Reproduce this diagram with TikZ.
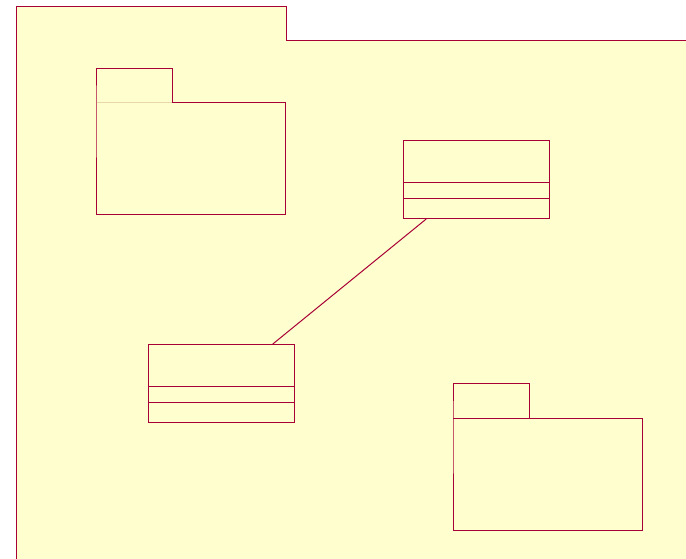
\documentclass[tikz,border=0pt]{standalone}
\usetikzlibrary{calc}
\definecolor{pfill}{HTML}{FEFECE}
\definecolor{pline}{HTML}{A80036}
\definecolor{ptab}{HTML}{E8D8A8}
\begin{document}
\begin{tikzpicture}[x=1pt,y=-1pt,
  shp/.style={draw=pline,fill=pfill,line width=1pt},
  classbox/.style={draw=pline,fill=pfill,line width=1pt,rectangle,inner sep=0pt,minimum width=146pt,minimum height=78pt,anchor=north west},
  link/.style={draw=pline,line width=1pt}]
\useasboundingbox (0,0) rectangle (686,558);
\fill[white] (0,0) rectangle (686,558);
% outer package (cut by the page edge)
\begin{scope}
\clip (0,0) rectangle (686,558);
\path[shp] (16,570) -- (16,6) -- (286,6) -- (286,40) -- (700,40) -- (700,570) -- cycle;
\end{scope}
% package 1
\path[shp] (96,102) -- (96,68) -- (172,68) -- (172,102) -- (285,102) -- (285,214) -- (96,214) -- cycle;
\draw[ptab,line width=0.8pt] (96.5,102) -- (171.5,102);
% package 2
\path[shp] (453,418) -- (453,383) -- (529,383) -- (529,418) -- (642,418) -- (642,530) -- (453,530) -- cycle;
\draw[pline,line width=1pt] (453,418) -- (529,418);
% class 1
\node[classbox] (c1) at (403,140) {};
\draw[pline,line width=1pt] (403,182) -- (549,182) (403,198) -- (549,198);
% class 2
\node[classbox] (c2) at (148,344) {};
\draw[pline,line width=1pt] (148,386) -- (294,386) (148,402) -- (294,402);
% connector
\draw[link] ($(c1.south west)!0.158!(c1.south east)$) -- ($(c2.north west)!0.849!(c2.north east)$);
\end{tikzpicture}
\end{document}
